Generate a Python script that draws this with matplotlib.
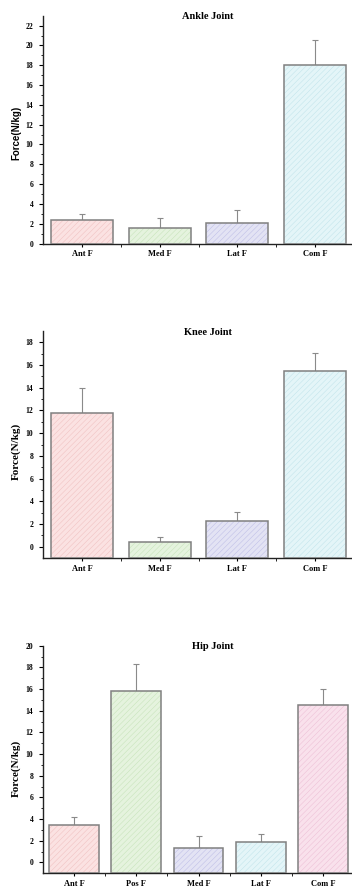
import matplotlib
matplotlib.use("Agg")
import matplotlib.pyplot as plt
import numpy as np

# ---- data ----
ankle_cats = ["Ant F", "Med F", "Lat F", "Com F"]
ankle_vals = [2.4, 1.6, 2.1, 18.0]
ankle_err = [0.6, 0.95, 1.25, 2.5]

knee_cats = ["Ant F", "Med F", "Lat F", "Com F"]
knee_vals = [11.8, 0.4, 2.3, 15.45]
knee_err = [2.2, 0.45, 0.75, 1.65]

hip_cats = ["Ant F", "Pos F", "Med F", "Lat F", "Com F"]
hip_vals = [3.45, 15.85, 1.3, 1.9, 14.5]
hip_err = [0.75, 2.45, 1.1, 0.7, 1.5]

PINK, GREEN, LAV, CYAN, ROSE = "#fbe2e2", "#e5f3de", "#e3e3f4", "#e4f5f8", "#f9e1ec"
PINK_H, GREEN_H, LAV_H, CYAN_H, ROSE_H = "#efbfbf", "#c5e2b8", "#bcbce6", "#bfe3ea", "#ecbdd4"

plt.rcParams["hatch.linewidth"] = 0.35

fig = plt.figure(figsize=(3.52, 8.88), dpi=100)
W, H = 352.0, 888.0

def make_ax(top_px, bottom_px):
    left = 43 / W
    right = 354 / W
    return fig.add_axes([left, 1 - bottom_px / H, right - left, (bottom_px - top_px) / H])

serif = "Liberation Serif"

def draw(ax, cats, vals, err, faces, hatches, ylim, ymax_tick, title, title_x,
         ylabel_font, ylabel_size, ylabel_y):
    n = len(cats)
    x = np.arange(1, n + 1)
    base = ylim[0]
    v = np.array(vals)
    ax.bar(x, v - base, bottom=base, width=0.8, color=faces, edgecolor=hatches,
           hatch="//////", linewidth=0, zorder=2)
    ax.bar(x, v - base, bottom=base, width=0.8, fill=False, edgecolor="#808080",
           linewidth=1.1, zorder=3)
    ax.errorbar(x, v, yerr=[np.zeros(n), np.array(err)], fmt="none", ecolor="#8a8a8a",
                elinewidth=0.8, capsize=2, capthick=0.8, zorder=1)
    ax.set_xlim(0.5, n + 0.5)
    ax.set_ylim(*ylim)
    for s in ["top", "right"]:
        ax.spines[s].set_visible(False)
    for s in ["left", "bottom"]:
        ax.spines[s].set_linewidth(1.0)
        ax.spines[s].set_color("#222222")
    ax.set_yticks(np.arange(0, ymax_tick + 1, 2))
    ax.set_yticks(np.arange(1, ymax_tick + 1, 2), minor=True)
    ax.set_xticks(x)
    ax.set_xticks(np.arange(1.5, n, 1), minor=True)
    ax.set_xticklabels(cats, fontfamily=serif, fontweight="bold", fontsize=6)
    ax.set_yticklabels([str(t) for t in range(0, ymax_tick + 1, 2)],
                       fontfamily=serif, fontweight="bold", fontsize=5.5)
    ax.tick_params(axis="y", which="major", length=3, width=0.8, pad=4, direction="out")
    ax.tick_params(axis="y", which="minor", length=1.8, width=0.6, direction="out")
    ax.tick_params(axis="x", which="major", length=2.5, width=0.8, pad=2.5, direction="out")
    ax.tick_params(axis="x", which="minor", length=1.8, width=0.6, direction="out")
    ax.text(title_x, 0.995, title, transform=ax.transAxes, ha="center", va="center",
            fontfamily=serif, fontweight="bold", fontsize=7.5)
    ax.set_ylabel("Force(N/kg)", fontfamily=ylabel_font, fontweight="bold",
                  fontsize=ylabel_size, va="center")
    ax.yaxis.set_label_coords((16 - 43) / 311.0, ylabel_y)

ax1 = make_ax(15.7, 243.5)
draw(ax1, ankle_cats, ankle_vals, ankle_err, [PINK, GREEN, LAV, CYAN],
     [PINK_H, GREEN_H, LAV_H, CYAN_H], (0, 23), 22, "Ankle Joint", 0.53,
     "Liberation Sans", 7, 0.485)

ax2 = make_ax(331, 558)
draw(ax2, knee_cats, knee_vals, knee_err, [PINK, GREEN, LAV, CYAN],
     [PINK_H, GREEN_H, LAV_H, CYAN_H], (-1, 19), 18, "Knee Joint", 0.53,
     serif, 8, 0.47)

ax3 = make_ax(645.7, 873.3)
draw(ax3, hip_cats, hip_vals, hip_err, [PINK, GREEN, LAV, CYAN, ROSE],
     [PINK_H, GREEN_H, LAV_H, CYAN_H, ROSE_H], (-1, 20), 20, "Hip Joint", 0.545,
     serif, 8, 0.46)

fig.savefig("out.png", dpi=100)
